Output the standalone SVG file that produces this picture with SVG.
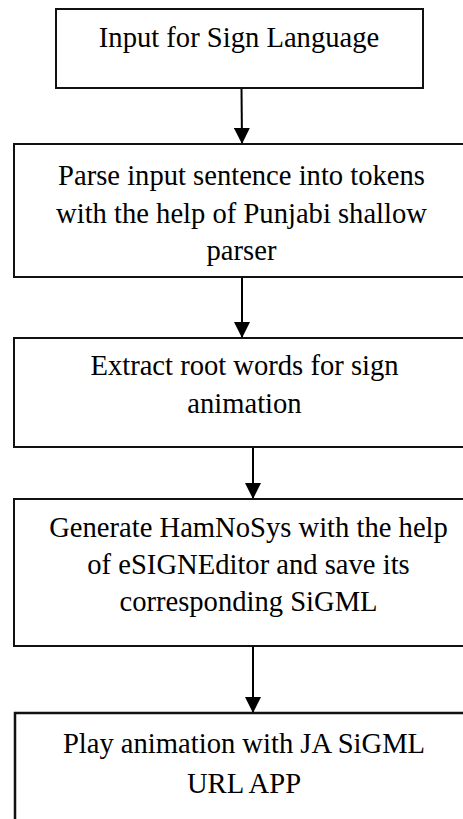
<svg xmlns="http://www.w3.org/2000/svg" width="463" height="819" viewBox="0 0 463 819">
  <defs>
    <marker id="arrow" viewBox="0 0 16 16" refX="16" refY="8" markerWidth="16" markerHeight="16" markerUnits="userSpaceOnUse" orient="auto">
      <path d="M0,0 L16,8 L0,16 Z" fill="#000"/>
    </marker>
    <style>
      .box { fill: #fff; stroke: #111; stroke-width: 2; }
      .lbl { font-family: 'Liberation Serif', 'Times New Roman', serif; font-size: 28.6px; fill: #000; text-anchor: middle; }
      .edge { stroke: #000; stroke-width: 2; fill: none; marker-end: url(#arrow); }
    </style>
  </defs>
  <rect width="463" height="819" fill="#fff"/>

  <!-- vertical flow arrows between the steps -->
  <g id="connectors">
    <line class="edge" x1="241.5" y1="88" x2="242" y2="144"/>
    <line class="edge" x1="242" y1="277" x2="242" y2="338"/>
    <line class="edge" x1="253" y1="447" x2="253" y2="499"/>
    <line class="edge" x1="253" y1="646" x2="253" y2="713"/>
  </g>

  <g id="input">
    <rect class="box" x="56" y="9" width="367" height="79"/>
    <text class="lbl" x="239" y="47">Input for Sign Language</text>
  </g>

  <g id="parse">
    <rect class="box" x="14" y="144" width="460" height="133"/>
    <text class="lbl" x="241.5" y="185">Parse input sentence into tokens</text>
    <text class="lbl" x="241.5" y="222.5">with the help of Punjabi shallow</text>
    <text class="lbl" x="241.5" y="260">parser</text>
  </g>

  <g id="extract">
    <rect class="box" x="14" y="338" width="460" height="109"/>
    <text class="lbl" x="244.5" y="375">Extract root words for sign</text>
    <text class="lbl" x="244.5" y="413">animation</text>
  </g>

  <g id="generate">
    <rect class="box" x="14" y="499" width="470" height="147"/>
    <text class="lbl" x="248.5" y="537">Generate HamNoSys with the help</text>
    <text class="lbl" x="248.5" y="574">of eSIGNEditor and save its</text>
    <text class="lbl" x="248.5" y="611">corresponding SiGML</text>
  </g>

  <g id="play">
    <rect class="box" x="15" y="713" width="470" height="120" style="stroke-width:2.5"/>
    <text class="lbl" x="244" y="753">Play animation with JA SiGML</text>
    <text class="lbl" x="244" y="793">URL APP</text>
  </g>
</svg>
